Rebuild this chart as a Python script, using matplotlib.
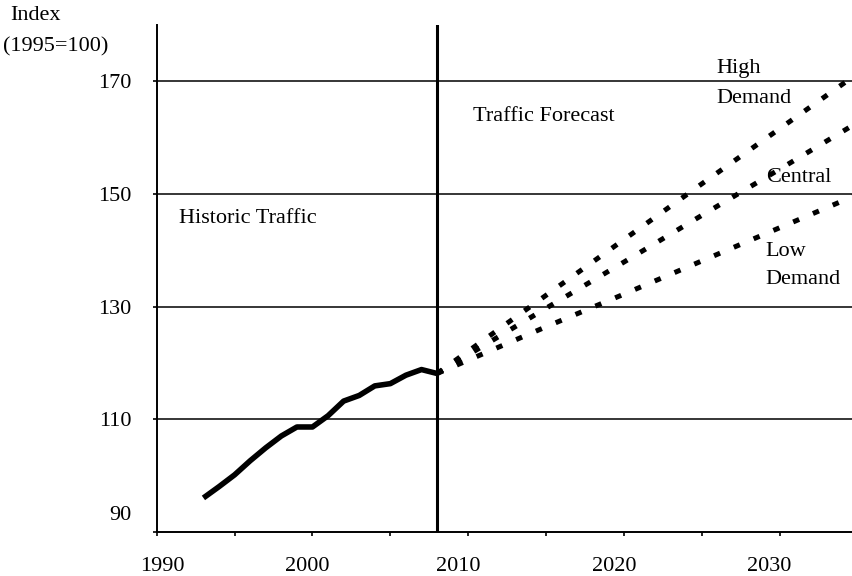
import matplotlib.pyplot as plt
import matplotlib.transforms as mtransforms

# Historic traffic index (1995=100)
hist_years = [1993, 1994, 1995, 1996, 1997, 1998, 1999, 2000, 2001, 2002,
              2003, 2004, 2005, 2006, 2007, 2008]
hist_index = [96.0, 98.0, 100.1, 102.6, 104.9, 107.0, 108.6, 108.6, 110.6, 113.2,
              114.2, 115.9, 116.3, 117.8, 118.8, 118.1]

# Forecast scenarios
fc_years = [2008, 2015, 2020, 2025, 2030, 2035]
fc_high = [118.1, 132.0, 141.9, 151.8, 161.6, 171.4]
fc_central = [118.1, 129.7, 137.9, 146.2, 154.4, 162.7]
fc_low = [118.1, 126.4, 132.2, 138.1, 144.0, 149.9]

grid_levels = [110, 130, 150, 170]
y_ticks = [90, 110, 130, 150, 170]
x_labels = [1990, 2000, 2010, 2020, 2030]
x_minor = [1995, 2005, 2015, 2025]
split_year = 2008

plt.rcParams['font.family'] = ['Liberation Serif', 'DejaVu Serif']

fig = plt.figure(figsize=(8.53, 5.76), dpi=100)
ax = fig.add_axes([0.1837, 0.0769, 0.8163, 0.8797])

ax.set_xlim(1990, 2034.7)
ax.set_ylim(90, 180)

# horizontal gridlines
for g in grid_levels:
    ax.axhline(g, color='black', lw=1.1, zorder=1)

# divider between history and forecast
ax.axvline(split_year, color='black', lw=2.2, zorder=2)

# historic line
ax.plot(hist_years, hist_index, color='black', lw=4.0, solid_capstyle='butt',
        solid_joinstyle='round', zorder=3)

# forecast lines (heavy dotted)
for vals in (fc_high, fc_central, fc_low):
    ax.plot(fc_years, vals, color='black', lw=3.6,
            linestyle=(0, (1.3, 3.0)), dash_capstyle='butt', zorder=3)

# spines
for s in ('top', 'right'):
    ax.spines[s].set_visible(False)
for s in ('left', 'bottom'):
    ax.spines[s].set_linewidth(1.4)

ax.set_yticks(y_ticks)
ax.set_yticklabels([str(v) for v in y_ticks])
ax.set_xticks(x_labels)
ax.set_xticklabels([str(v) for v in x_labels])
ax.set_xticks(x_minor, minor=True)
ax.tick_params(axis='y', length=3, width=1.2, pad=15, labelsize=16)
ax.tick_params(axis='x', which='both', length=3, width=1.2, pad=15, labelsize=16)

# the scanned original has its tick labels slightly off their ticks
lbl = ax.get_yticklabels()[0]
lbl.set_transform(lbl.get_transform() +
                  mtransforms.ScaledTranslation(0, 0.187, fig.dpi_scale_trans))
x_shift_px = [6, -5, -10, -10, -11]
for lbl, dx in zip(ax.get_xticklabels(), x_shift_px):
    lbl.set_transform(lbl.get_transform() +
                      mtransforms.ScaledTranslation(dx / 100, 0, fig.dpi_scale_trans))

fs = 16
ax.text(1991.4, 145.7, 'Historic Traffic', fontsize=fs, va='center', ha='left')
ax.text(2010.3, 163.8, 'Traffic Forecast', fontsize=fs, va='center', ha='left')
ax.text(2025.9, 172.3, 'High', fontsize=fs, va='center', ha='left')
ax.text(2025.9, 166.9, 'Demand', fontsize=fs, va='center', ha='left')
ax.text(2029.1, 153.0, 'Central', fontsize=fs, va='center', ha='left')
ax.text(2029.1, 139.7, 'Low', fontsize=fs, va='center', ha='left')
ax.text(2029.1, 134.8, 'Demand', fontsize=fs, va='center', ha='left')

fig.text(10 / 853, 1 - 15 / 576, 'Index', fontsize=fs, va='center', ha='left')
fig.text(3 / 853, 1 - 47 / 576, '(1995=100)', fontsize=fs, va='center', ha='left')

fig.savefig('out.png', dpi=100)
